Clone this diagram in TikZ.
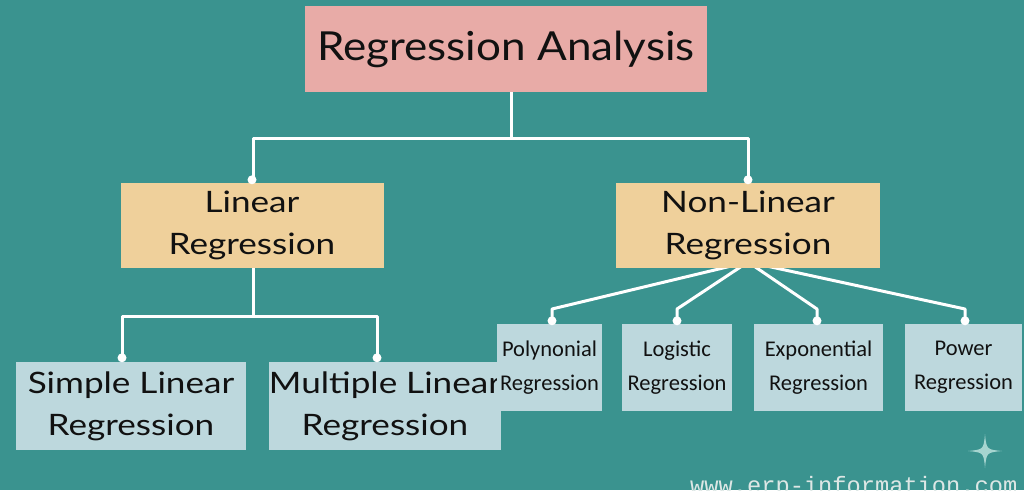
\documentclass[tikz,border=0pt]{standalone}
\usepackage{fontspec}
\setmainfont{Lato}
\newfontfamily\titlefont[FakeStretch=1.10]{Lato}
\newfontfamily\midfont[FakeStretch=1.19]{Lato}
\newfontfamily\smallfont{Carlito}
\newfontfamily\wmfont{Liberation Mono}
\usetikzlibrary{calc}
\definecolor{bg}{RGB}{58,147,143}
\definecolor{pinkbox}{RGB}{232,171,167}
\definecolor{tanbox}{RGB}{239,208,155}
\definecolor{bluebox}{RGB}{189,216,221}
\definecolor{sparklec}{RGB}{166,213,208}
\definecolor{wmc}{RGB}{221,231,229}
\definecolor{ink}{RGB}{17,17,17}
\tikzset{
  box/.style={rectangle, inner sep=0pt, align=center, text=ink},
  titlebox/.style={box, fill=pinkbox, minimum width=402, minimum height=86, font=\titlefont\fontsize{40}{48}\selectfont},
  midbox/.style={box, fill=tanbox, minimum width=263, minimum height=85, font=\midfont\fontsize{29.5}{42}\selectfont},
  lowbox/.style={box, fill=bluebox, minimum width=230, minimum height=88, font=\midfont\fontsize{29.5}{42}\selectfont},
  smallbox/.style={box, fill=bluebox, minimum height=87, font=\smallfont\fontsize{22.5}{34}\selectfont},
  conn/.style={draw=white, line width=3pt, line join=round},
  dot/.style={fill=white},
}
\begin{document}
\begin{tikzpicture}[x=1pt,y=-1pt]
\useasboundingbox (0,0) rectangle (1024,490);
\clip (0,0) rectangle (1024,490);
\fill[bg] (0,0) rectangle (1024,490);

% connector anchor points
\coordinate (rajoin) at (511,92);
\coordinate (nlhub) at (748,262);
\coordinate (lhub) at (253,268);

\node[titlebox] (ra) at (506,49) {Regression Analysis};

\path (rajoin) ++(0,46) coordinate (j1);
\draw[conn] (rajoin) -- (j1) -- (253,138) -- (253,180);
\draw[conn] (j1) -- (748,138) -- (748,180);

\draw[conn] (lhub) -- (253,316) coordinate (j2) -- (122,316) -- (122,358);
\draw[conn] (j2) -- (377,316) -- (377,358);

\draw[conn] (nlhub) -- (552,309) -- (552,321);
\draw[conn] (nlhub) -- (677,309) -- (677,321);
\draw[conn] (nlhub) -- (817,309) -- (817,321);
\draw[conn] (nlhub) -- (965,309) -- (965,321);

\node[midbox] (lin) at (252,225.5) {Linear\\Regression};
\node[midbox, minimum width=264] (nonlin) at (748,225.5) {Non-Linear\\Regression};

\node[lowbox] (simple) at (131,406) {Simple Linear\\Regression};
\node[lowbox] (multi) at (385,406) {Multiple Linear\\Regression};

\node[smallbox, minimum width=105] (poly) at (549.5,367.5) {Polynonial\\Regression};
\node[smallbox, minimum width=110] (logi) at (677,367.5) {Logistic\\Regression};
\node[smallbox, minimum width=129] (expo) at (818.5,367.5) {Exponential\\Regression};
\node[smallbox, minimum width=117] (powr) at (963.5,367.5) {Power\\Regression};

% dots
\fill[dot] ([yshift=3pt]lin.north) circle[radius=4.5pt];
\fill[dot] ([yshift=3pt]nonlin.north) circle[radius=4.5pt];
\fill[dot] ([yshift=4pt]simple.north -| 122,0) circle[radius=4.5pt];
\fill[dot] ([yshift=4pt]multi.north -| 377,0) circle[radius=4.5pt];
\fill[dot] ([yshift=3pt]poly.north -| 552,0) circle[radius=4.5pt];
\fill[dot] ([yshift=3pt]logi.north -| 677,0) circle[radius=4.5pt];
\fill[dot] ([yshift=3pt]expo.north -| 817,0) circle[radius=4.5pt];
\fill[dot] ([yshift=3pt]powr.north -| 965,0) circle[radius=4.5pt];

% sparkle
\fill[sparklec] (985,434) .. controls (986.5,449.5) .. (1002,451) .. controls (986.5,452.5) .. (985,468) .. controls (983.5,452.5) .. (968,451) .. controls (983.5,449.5) .. cycle;

% watermark
\node[anchor=base west, inner sep=0pt, text=wmc, font=\wmfont\fontsize{23.7}{28}\selectfont] (wm) at (690,493) {www.erp-information.com};
\end{tikzpicture}
\end{document}
